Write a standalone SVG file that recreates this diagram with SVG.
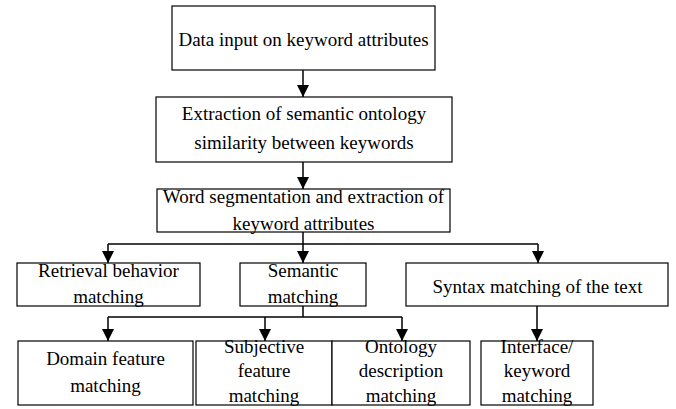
<svg xmlns="http://www.w3.org/2000/svg" width="676" height="409" viewBox="0 0 676 409">
<defs>
<style>
.box{fill:#fff;stroke:#000;stroke-width:1.2}
.t{font-family:"Liberation Serif","Times New Roman",serif;font-size:19px;fill:#000;text-anchor:middle}
.c{fill:none;stroke:#000;stroke-width:1.5}
</style>
<marker id="ah" markerUnits="userSpaceOnUse" markerWidth="12" markerHeight="12" refX="12" refY="6" orient="auto">
<path d="M0,0 L12,6 L0,12 z" fill="#000"/>
</marker>
</defs>
<rect width="676" height="409" fill="#fff"/>
<g id="connectors">
<line class="c" x1="303" y1="70" x2="303" y2="97" marker-end="url(#ah)"/>
<line class="c" x1="303" y1="162" x2="303" y2="189" marker-end="url(#ah)"/>
<line class="c" x1="303" y1="232" x2="303" y2="263" marker-end="url(#ah)"/>
<line class="c" x1="108" y1="244" x2="538" y2="244"/>
<line class="c" x1="108" y1="244" x2="108" y2="263" marker-end="url(#ah)"/>
<line class="c" x1="538" y1="244" x2="538" y2="263" marker-end="url(#ah)"/>
<line class="c" x1="303" y1="306" x2="303" y2="317"/>
<line class="c" x1="108" y1="317" x2="402" y2="317"/>
<line class="c" x1="108" y1="317" x2="108" y2="341" marker-end="url(#ah)"/>
<line class="c" x1="265" y1="317" x2="265" y2="341" marker-end="url(#ah)"/>
<line class="c" x1="402" y1="317" x2="402" y2="341" marker-end="url(#ah)"/>
<line class="c" x1="537" y1="306" x2="537" y2="341" marker-end="url(#ah)"/>
</g>
<g id="n1"><rect class="box" x="172" y="6" width="263" height="64"/><text class="t" x="303.5" y="46">Data input on keyword attributes</text></g>
<g id="n2"><rect class="box" x="156" y="97" width="296" height="65"/><text class="t" x="304" y="120">Extraction of semantic ontology</text><text class="t" x="304" y="149">similarity between keywords</text></g>
<g id="n3"><rect class="box" x="157" y="189" width="293" height="43"/><text class="t" x="303.5" y="203">Word segmentation and extraction of</text><text class="t" x="303.5" y="230">keyword attributes</text></g>
<g id="n4"><rect class="box" x="17" y="263" width="183" height="43"/><text class="t" x="108.5" y="277">Retrieval behavior</text><text class="t" x="108.5" y="303">matching</text></g>
<g id="n5"><rect class="box" x="240" y="263" width="126" height="43"/><text class="t" x="303" y="277">Semantic</text><text class="t" x="303" y="303">matching</text></g>
<g id="n6"><rect class="box" x="406" y="263" width="262" height="43"/><text class="t" x="537.5" y="293">Syntax matching of the text</text></g>
<g id="n7"><rect class="box" x="18" y="341" width="175" height="64"/><text class="t" x="105.5" y="365">Domain feature</text><text class="t" x="105.5" y="392">matching</text></g>
<g id="n8"><rect class="box" x="196" y="341" width="136" height="64"/><text class="t" x="264" y="353">Subjective</text><text class="t" x="264" y="377">feature</text><text class="t" x="264" y="402">matching</text></g>
<g id="n9"><rect class="box" x="332" y="341" width="138" height="64"/><text class="t" x="401" y="353">Ontology</text><text class="t" x="401" y="377">description</text><text class="t" x="401" y="402">matching</text></g>
<g id="n10"><rect class="box" x="481" y="341" width="112" height="64"/><text class="t" x="537" y="353">Interface/</text><text class="t" x="537" y="377">keyword</text><text class="t" x="537" y="402">matching</text></g>
</svg>
